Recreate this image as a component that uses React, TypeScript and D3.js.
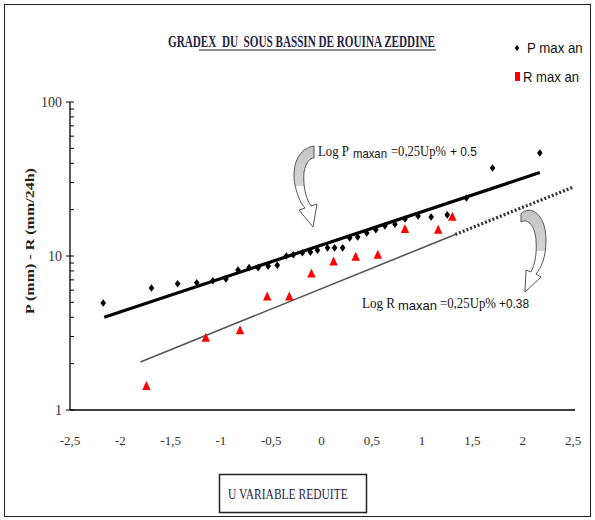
import React from "react";
import * as d3 from "d3";

// reduced variable U and annual maxima
const pU = [-2.17, -1.69, -1.43, -1.24, -1.08, -0.95, -0.83, -0.72, -0.63, -0.53, -0.44,
  -0.35, -0.28, -0.19, -0.11, -0.04, 0.06, 0.13, 0.21, 0.28, 0.36, 0.45, 0.54, 0.63,
  0.73, 0.83, 0.96, 1.09, 1.25, 1.44, 1.7, 2.17];
const pMax = [4.95, 6.2, 6.6, 6.7, 6.9, 7.1, 8.1, 8.4, 8.4, 8.6, 8.7,
  10.0, 10.2, 10.5, 10.6, 10.9, 11.3, 11.3, 11.3, 13.1, 13.3, 14.1, 14.8, 15.7,
  16.1, 17.4, 18.2, 17.9, 18.5, 23.8, 37.3, 46.7];

const rU = [-1.74, -1.15, -0.81, -0.54, -0.32, -0.1, 0.12, 0.34, 0.56, 0.83, 1.16, 1.3];
const rMax = [1.43, 2.95, 3.3, 5.45, 5.45, 7.7, 9.2, 9.9, 10.2, 15.0, 14.8, 18.0];

// fitted lines (end points)
const pFitU = [-2.16, 2.17];
const pFitVal = [4.0, 34.8];
const rFitU = [-1.8, 1.33];
const rFitVal = [2.05, 13.8];
const rExtU = [1.33, 2.5];
const rExtVal = [13.8, 28.0];

const xTicks = [-2.5, -2, -1.5, -1, -0.5, 0, 0.5, 1, 1.5, 2, 2.5];
const yMajor = [1, 10, 100];

const SERIF = "'Liberation Serif', 'DejaVu Serif', serif";
const SANS = "'Liberation Sans', Arial, sans-serif";

let ctx: CanvasRenderingContext2D | null = null;
function measure(text: string, font: string) {
  if (!ctx) ctx = document.createElement("canvas").getContext("2d");
  if (!ctx) return text.length * 7;
  ctx.font = font;
  return ctx.measureText(text).width;
}

// text squeezed horizontally to a given width (the source uses narrow fonts)
function FitText(props: {
  x: number; y: number; w: number; text: string; size: number; family: string;
  bold?: boolean; fill?: string; rotate?: number; anchor?: "start" | "middle";
}) {
  const { x, y, w, text, size, family, bold, fill = "#111", rotate = 0, anchor = "start" } = props;
  const fam = family.split(",")[0];
  const nat = measure(text, `${bold ? "bold " : ""}${size}px ${fam}`);
  const sx = nat > 0 ? w / nat : 1;
  return (
    <text transform={`translate(${x},${y}) rotate(${rotate}) scale(${sx},1)`} x={0} y={0}
      fontFamily={family} fontSize={size} fontWeight={bold ? "bold" : "normal"} fill={fill}
      textAnchor={anchor} style={{ whiteSpace: "pre" }}>
      {text}
    </text>
  );
}

export default function App() {
  const x = d3.scaleLinear().domain([-2.5, 2.5]).range([70, 573]);
  const y = d3.scaleLog().domain([1, 100]).range([410, 102]);

  const line = d3.line<[number, number]>().x(d => x(d[0])).y(d => y(d[1]));
  const zip = (a: number[], b: number[]) => a.map((v, i) => [v, b[i]] as [number, number]);

  const minor: number[] = [];
  for (const base of [1, 10]) for (let k = 2; k <= 9; k++) minor.push(base * k);

  const fmt = (v: number) => String(v).replace(".", ",");

  const diamond = "M0,-3.8 L2.8,0 L0,3.8 L-2.8,0 Z";
  const tri = "M0,-5 L4.2,4 L-4.2,4 Z";

  return (
    <svg width={595} height={520} style={{ position: "absolute", left: 0, top: 0, background: "#fff" }}>
      <defs>
        <linearGradient id="arrowFill" x1="0" y1="0" x2="0" y2="1">
          <stop offset="0" stopColor="#c4c4c4" />
          <stop offset="0.5" stopColor="#d4d4d4" />
          <stop offset="0.5" stopColor="#fff" />
          <stop offset="1" stopColor="#fff" />
        </linearGradient>
      </defs>
      <rect x={0} y={0} width={595} height={520} fill="#fff" />
      <rect x={4.5} y={4.5} width={586} height={512} fill="none" stroke="#222" strokeWidth={1} />

      {/* title */}
      <FitText x={168} y={47} w={268} size={17.5} family={SERIF} bold fill="#1f2244"
        text={"GRADEX\u00a0\u00a0DU\u00a0\u00a0SOUS BASSIN DE ROUINA ZEDDINE"} />
      <line x1={199} x2={436} y1={50} y2={50} stroke="#222" strokeWidth={1} />

      {/* legend */}
      <path d={diamond} transform="translate(517,48) scale(0.8)" fill="#000" />
      <FitText x={527} y={53} w={56} size={14} family={SANS} text="P max an" />
      <rect x={515} y={72} width={5} height={9} fill="#f00" />
      <FitText x={523} y={82} w={56} size={14} family={SANS} text="R max an" />

      {/* axes */}
      <line x1={70} x2={70} y1={102} y2={410} stroke="#000" strokeWidth={1.3} />
      <line x1={70} x2={575} y1={410} y2={410} stroke="#000" strokeWidth={1.3} />
      {yMajor.map(v => (
        <g key={v}>
          <line x1={66} x2={74} y1={y(v)} y2={y(v)} stroke="#000" />
          <text x={62} y={y(v) + 5} textAnchor="end" fontFamily={SERIF} fontSize={14}
            fill="#333">{v}</text>
        </g>
      ))}
      {minor.map(v => (
        <line key={v} x1={70} x2={74} y1={y(v)} y2={y(v)} stroke="#000" />
      ))}
      {xTicks.map(v => (
        <text key={v} x={x(v)} y={445} textAnchor="middle" fontFamily={SERIF} fontSize={13}
          fill="#333">{fmt(v)}</text>
      ))}

      {/* y label */}
      <FitText x={34} y={241} w={147} size={13} family={SERIF} bold rotate={-90} anchor="middle"
        fill="#2a1f10" text="P (mm) - R (mm/24h)" />

      {/* x label box */}
      <rect x={219.5} y={474.5} width={147} height={38} fill="#fff" stroke="#222" strokeWidth={1.5} />
      <FitText x={228} y={499} w={120} size={15} family={SERIF} fill="#1f2244" text="U VARIABLE REDUITE" />

      {/* fitted lines */}
      <path d={line(zip(rFitU, rFitVal)) || ""} stroke="#555" strokeWidth={1.6} fill="none" />
      <path d={line(zip(rExtU, rExtVal)) || ""} stroke="#333" strokeWidth={3.2} strokeDasharray="2 2"
        fill="none" />
      <path d={line(zip(pFitU, pFitVal)) || ""} stroke="#000" strokeWidth={3.2} fill="none" />

      {/* points */}
      {pU.map((u, i) => (
        <path key={"p" + i} d={diamond} transform={`translate(${x(u)},${y(pMax[i])})`} fill="#000" />
      ))}
      {rU.map((u, i) => (
        <path key={"r" + i} d={tri} transform={`translate(${x(u)},${y(rMax[i])})`} fill="#f00" />
      ))}

      {/* annotations */}
      <path d="M314,146 C299,148 291,165 295,185 C298,198 302,205 305,208 L299,210 L313,227 L317,204 L311,206 C305,197 303,185 304,172 C306,162 310,158 314,158 Z"
        fill="url(#arrowFill)" stroke="#555" strokeWidth={1} />
      <FitText x={318} y={156} w={31} size={15} family={SERIF} text="Log P" />
      <FitText x={353} y={158} w={34} size={12.5} family={SANS} text="maxan" />
      <FitText x={391} y={156} w={55} size={15} family={SERIF} text="=0,25Up%" />
      <FitText x={450} y={156} w={27} size={13} family={SANS} text="+ 0.5" />

      <path d="M521,214 C530,204 546,214 546,240 C546,258 541,268 536,274 L541,277 L525,292 L526,270 L531,272 C535,264 537,254 536,240 C535,226 528,218 521,222 Z"
        fill="url(#arrowFill)" stroke="#555" strokeWidth={1} />
      <FitText x={362} y={308} w={33} size={15} family={SERIF} text="Log R" />
      <FitText x={398} y={310} w={39} size={13} family={SANS} text="maxan" />
      <FitText x={440} y={308} w={56} size={15} family={SERIF} text="=0,25Up%" />
      <FitText x={499} y={308} w={30} size={13} family={SANS} text="+0.38" />
    </svg>
  );
}
